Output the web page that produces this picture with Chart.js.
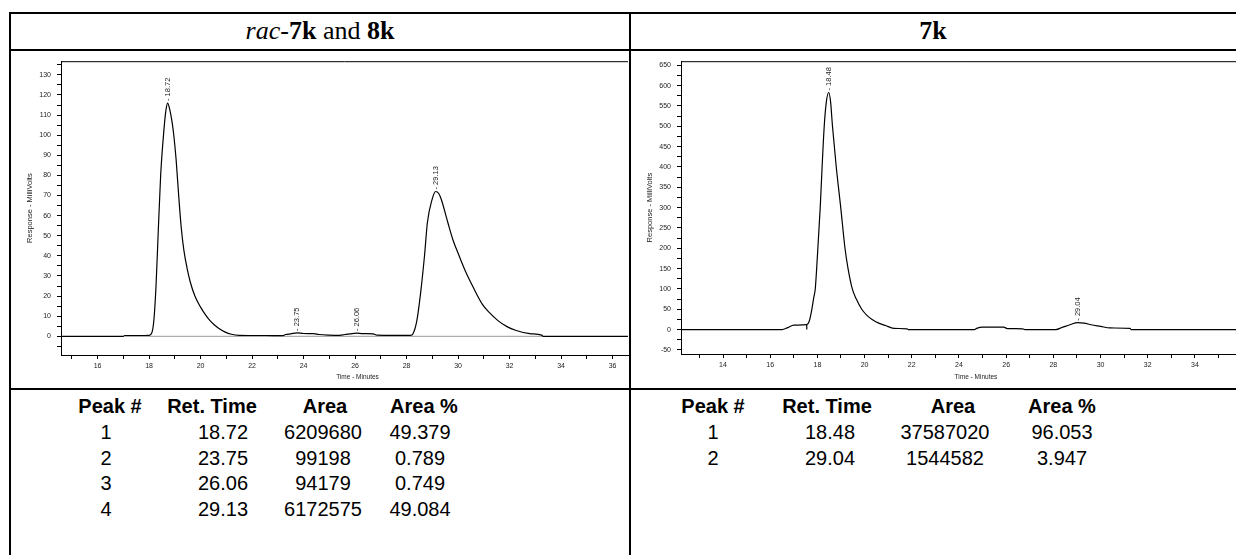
<!DOCTYPE html>
<html>
<head>
<meta charset="utf-8">
<script src="https://cdn.jsdelivr.net/npm/chart.js@4.4.0/dist/chart.umd.min.js"></script>
<style>
  html, body { margin: 0; padding: 0; overflow: hidden; background: #fff; }
  body { width: 1236px; height: 555px; position: relative; font-family: "Liberation Sans", Arial, sans-serif; color: #000; }
  .rule { position: absolute; background: #000; }
  .head { position: absolute; top: 13px; height: 36px; display: flex; align-items: center; justify-content: center;
          font-family: "Liberation Serif", "Times New Roman", serif; font-size: 26px; white-space: nowrap; }
  canvas { position: absolute; }
  .cell { position: absolute; width: 140px; margin-left: -70px; height: 24px; line-height: 24px;
          text-align: center; font-size: 20px; white-space: nowrap; }
  .cell.b { font-weight: bold; }
</style>
</head>
<body>
<div class="rule" style="left:9px;top:12px;width:1240px;height:2px"></div>
<div class="rule" style="left:9px;top:49px;width:1240px;height:2px"></div>
<div class="rule" style="left:9px;top:388px;width:1240px;height:2px"></div>
<div class="rule" style="left:9px;top:12px;width:2px;height:560px"></div>
<div class="rule" style="left:629px;top:12px;width:2px;height:560px"></div>

<div class="head" style="left:11px;width:618px"><i>rac</i>-<b>7k</b>&nbsp;and&nbsp;<b>8k</b></div>
<div class="head" style="left:631px;width:604px"><b>7k</b></div>

<canvas id="left_chart" width="618" height="337" style="left:11px;top:51px"></canvas>
<canvas id="right_chart" width="618" height="337" style="left:631px;top:51px"></canvas>

<script>
// rac-7k and 8k の測定データ (時間[min], 応答[mV])
const LEFT_TIME = [14.58, 17.0, 17.05, 17.5, 18.0, 18.1, 18.15, 18.2, 18.27, 18.35, 18.45, 18.58, 18.65, 18.72, 18.8, 18.9, 18.96, 19.05, 19.15, 19.25, 19.35, 19.49, 19.6, 19.78, 20.0, 20.2, 20.35, 20.55, 20.7, 20.94, 21.2, 21.5, 22.5, 23.2, 23.3, 23.5, 23.75, 24.0, 24.4, 24.6, 25.0, 25.4, 25.6, 25.8, 26.06, 26.3, 26.7, 26.85, 27.5, 28.15, 28.25, 28.4, 28.55, 28.7, 28.81, 28.99, 29.13, 29.25, 29.35, 29.6, 29.8, 30.03, 30.3, 30.6, 30.94, 31.2, 31.55, 31.9, 32.26, 32.78, 33.25, 33.3, 36.6];
const LEFT_MV = [0, 0, 0.4, 0.4, 0.5, 1.5, 4, 10, 25, 50, 80, 103, 112, 116, 113, 106, 100, 88, 70, 54, 43, 33, 27, 20, 14.5, 10.5, 8, 5.5, 4, 2.2, 1, 0.5, 0.4, 0.3, 0.9, 1.2, 1.7, 1.4, 1.3, 0.9, 0.6, 0.5, 0.9, 1.2, 1.6, 1.3, 1.2, 0.6, 0.5, 0.5, 1.3, 7.8, 22, 40.4, 56.7, 68, 72, 71, 68, 56.7, 48, 40.4, 32, 24.1, 16, 12, 7.8, 4.8, 2.9, 1.3, 0.6, 0, 0];
const LEFT_BASE_TIME = [17.05, 33.3];
const LEFT_BASE_MV = [0, 0];
const LEFT_PEAK_TIME = [18.72, 23.75, 26.06, 29.13];
const LEFT_PEAK_MV = [116, 1.7, 1.6, 72];

// 7k の測定データ
const RIGHT_TIME = [12.22, 16.5, 16.75, 17.0, 17.55, 17.65, 17.75, 17.85, 17.91, 18.0, 18.12, 18.2, 18.29, 18.38, 18.48, 18.56, 18.64, 18.8, 18.99, 19.17, 19.3, 19.48, 19.65, 19.88, 20.1, 20.32, 20.6, 20.89, 21.24, 21.8, 21.85, 24.65, 24.75, 25.0, 25.9, 26.05, 26.7, 26.8, 28.1, 28.4, 28.7, 29.04, 29.3, 29.6, 30.0, 30.4, 31.25, 31.3, 36.12];
const RIGHT_MV = [0, 0, 5, 11, 12, 20, 45, 80, 100, 180, 300, 400, 500, 560, 583, 560, 500, 400, 300, 200, 150, 100, 75, 50, 35, 25, 16, 10, 3, 2, 0, 0, 3, 6, 6, 2.5, 2, 0, 0, 6, 12, 17, 16, 12, 8, 4, 3, 0, 0];
const RIGHT_DROP_TIME = [17.55, 17.55];
const RIGHT_DROP_MV = [0, 12];
const RIGHT_PEAK_TIME = [18.48, 29.04];
const RIGHT_PEAK_MV = [583, 17];

// ピーク表
const TABLE_HEAD = ['Peak #', 'Ret. Time', 'Area', 'Area %'];
const LEFT_PEAK_NO = ['1', '2', '3', '4'];
const LEFT_RET = ['18.72', '23.75', '26.06', '29.13'];
const LEFT_AREA = ['6209680', '99198', '94179', '6172575'];
const LEFT_AREA_PCT = ['49.379', '0.789', '0.749', '49.084'];
const RIGHT_PEAK_NO = ['1', '2'];
const RIGHT_RET = ['18.48', '29.04'];
const RIGHT_AREA = ['37587020', '1544582'];
const RIGHT_AREA_PCT = ['96.053', '3.947'];

const FONT = '"Liberation Sans", Arial, sans-serif';
const toPoints = (xs, ys) => xs.map((x, i) => ({ x: x, y: ys[i] }));

// 枠の上辺、横軸タイトル、ピークの縦書きラベル
const chromPlugin = {
  id: 'chrom',
  afterDraw(chart, args, opts) {
    const ctx = chart.ctx;
    const a = chart.chartArea;
    ctx.save();
    ctx.strokeStyle = '#000';
    ctx.lineWidth = 1;
    ctx.beginPath();
    ctx.moveTo(a.left, a.top + 0.5);
    ctx.lineTo(a.right, a.top + 0.5);
    ctx.stroke();

    ctx.fillStyle = '#222';
    ctx.font = '6.5px ' + FONT;
    ctx.textAlign = 'center';
    ctx.textBaseline = 'middle';
    ctx.fillText('Time - Minutes', (a.left + a.right) / 2 + opts.titleShift, chart.height - 11);

    ctx.font = '7.5px ' + FONT;
    ctx.textAlign = 'left';
    const xs = chart.scales.x;
    const ys = chart.scales.y;
    opts.times.forEach((t, i) => {
      ctx.save();
      ctx.translate(xs.getPixelForValue(t), ys.getPixelForValue(opts.heights[i]) - 2);
      ctx.rotate(-Math.PI / 2);
      ctx.fillText('- ' + t.toFixed(2), 0, 0);
      ctx.restore();
    });
    ctx.restore();
  }
};

const makeChart = (id, cfg) => {
  new Chart(document.getElementById(id).getContext('2d'), {
    type: 'scatter',
    data: { datasets: cfg.datasets },
    options: {
      responsive: false,
      animation: false,
      layout: { padding: { top: 5, right: 1, left: 0, bottom: 0 } },
      plugins: {
        legend: { display: false },
        tooltip: { enabled: false },
        chrom: { times: cfg.peakTimes, heights: cfg.peakHeights, titleShift: 13 }
      },
      scales: {
        x: {
          type: 'linear', min: cfg.xMin, max: cfg.xMax,
          afterFit: (s) => { s.height = cfg.xAxisHeight; },
          border: { color: '#000', width: 1 },
          grid: { drawOnChartArea: false, tickLength: 4, color: '#000' },
          ticks: {
            stepSize: 1, includeBounds: false, autoSkip: false, maxRotation: 0, padding: 3,
            color: '#222', font: { size: 7, family: FONT },
            callback: (v) => (Math.abs(v - Math.round(v)) < 1e-6 && Math.round(v) % 2 === 0 ? Math.round(v) : '')
          }
        },
        y: {
          type: 'linear', min: cfg.yMin, max: cfg.yMax,
          afterFit: (s) => { s.width = 50; },
          border: { color: '#000', width: 1 },
          grid: { drawOnChartArea: false, tickLength: 4, color: '#000' },
          title: {
            display: true, text: 'Response - MilliVolts', color: '#222',
            font: { size: 7.5, family: FONT }, padding: { top: 14, bottom: 0 }
          },
          ticks: {
            stepSize: cfg.yStep, includeBounds: false, autoSkip: false, padding: 6,
            color: '#222', font: { size: 7, family: FONT },
            callback: (v) => (Math.round(v) % cfg.yLabelStep === 0 ? Math.round(v) : '')
          }
        }
      }
    },
    plugins: [chromPlugin]
  });
};

const traceStyle = { showLine: true, borderColor: '#000', borderWidth: 1.2, pointRadius: 0, cubicInterpolationMode: 'monotone' };
const baseStyle = { showLine: true, borderColor: '#9a9a9a', borderWidth: 1, pointRadius: 0 };

makeChart('left_chart', {
  xMin: 14.58, xMax: 36.6, yMin: -9.3, yMax: 136.8, yStep: 5, yLabelStep: 10, xAxisHeight: 33,
  peakTimes: LEFT_PEAK_TIME, peakHeights: LEFT_PEAK_MV,
  datasets: [
    Object.assign({ data: toPoints(LEFT_TIME, LEFT_MV), order: 0 }, traceStyle),
    Object.assign({ data: toPoints(LEFT_BASE_TIME, LEFT_BASE_MV), order: 1 }, baseStyle)
  ]
});

makeChart('right_chart', {
  xMin: 12.22, xMax: 36.12, yMin: -60, yMax: 660, yStep: 25, yLabelStep: 50, xAxisHeight: 34,
  peakTimes: RIGHT_PEAK_TIME, peakHeights: RIGHT_PEAK_MV,
  datasets: [
    Object.assign({ data: toPoints(RIGHT_TIME, RIGHT_MV), order: 0 }, traceStyle),
    Object.assign({ data: toPoints(RIGHT_DROP_TIME, RIGHT_DROP_MV), order: 1 }, traceStyle)
  ]
});

// ピーク表 (列の中心位置)
const ROW_Y = [406, 432, 457.5, 483, 508.5];
const addCell = (text, x, y, bold) => {
  const d = document.createElement('div');
  d.className = bold ? 'cell b' : 'cell';
  d.style.left = x + 'px';
  d.style.top = (y - 12) + 'px';
  d.textContent = text;
  document.body.appendChild(d);
};
const addTable = (headX, valX, cols) => {
  TABLE_HEAD.forEach((h, i) => addCell(h, headX[i], ROW_Y[0], true));
  cols.forEach((col, c) => col.forEach((v, r) => addCell(v, valX[c], ROW_Y[r + 1], false)));
};
addTable([110, 212, 325, 424], [106, 223, 323, 420], [LEFT_PEAK_NO, LEFT_RET, LEFT_AREA, LEFT_AREA_PCT]);
addTable([713, 827, 953, 1062], [713, 830, 945, 1062], [RIGHT_PEAK_NO, RIGHT_RET, RIGHT_AREA, RIGHT_AREA_PCT]);
</script>
</body>
</html>
